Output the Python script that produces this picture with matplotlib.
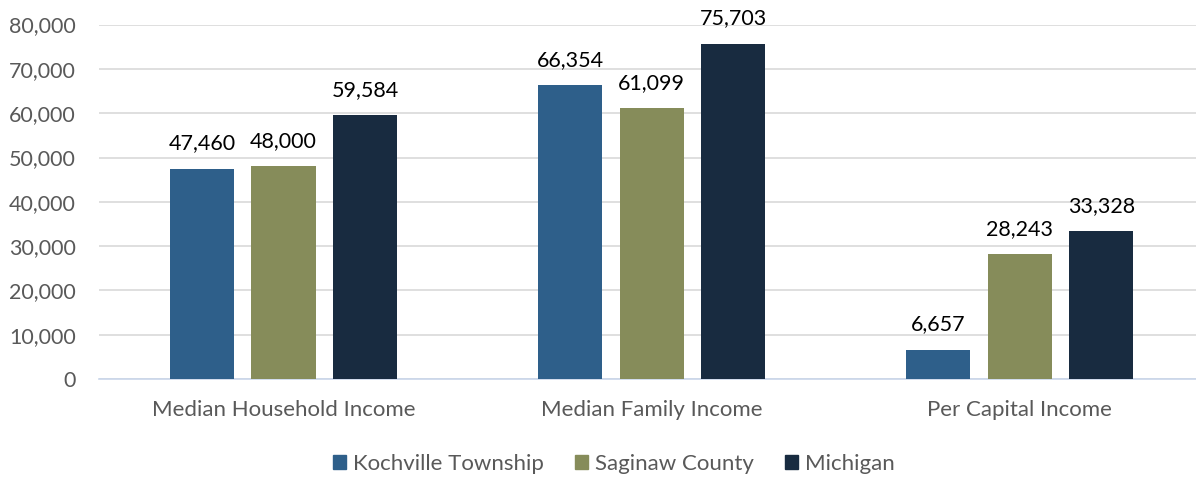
import numpy as np
import matplotlib
matplotlib.use("Agg")
from matplotlib import pyplot as plt
from matplotlib.patches import Patch
from matplotlib.ticker import FuncFormatter

plt.rcParams['font.family'] = ['Lato', 'DejaVu Sans']

categories = ['Median Household Income', 'Median Family Income', 'Per Capital Income']
series_names = ['Kochville Township', 'Saginaw County', 'Michigan']
kochville = [47460, 66354, 6657]
saginaw = [48000, 61099, 28243]
michigan = [59584, 75703, 33328]
colors = ['#2e5f8a', '#868c5a', '#182b40']

fig = plt.figure(figsize=(11.96, 4.78), dpi=100)
ax = fig.add_axes([99.4 / 1196, 0.207, 1104.6 / 1196, 0.7416])

x = np.arange(len(categories))
width = 0.174
step = 0.2215

for i, (vals, name, col) in enumerate(zip([kochville, saginaw, michigan], series_names, colors)):
    pos = x + (i - 1) * step
    bars = ax.bar(pos, vals, width, color=col, label=name, zorder=3)
    for b, v in zip(bars, vals):
        ax.annotate(f'{v:,}', (b.get_x() + b.get_width() / 2, v),
                    xytext=(0, 11), textcoords='offset points',
                    ha='center', va='bottom', fontsize=15.5, color='black')

ax.set_xlim(-0.5, 2.5)
ax.set_ylim(0, 80000)
ax.set_yticks(np.arange(0, 80001, 10000))
ax.yaxis.set_major_formatter(FuncFormatter(lambda v, p: f'{int(v):,}'))
ax.set_xticks(x)
ax.set_xticklabels(categories)

ax.grid(axis='y', color='#d9d9d9', linewidth=1.2, zorder=0)
for side in ['top', 'right', 'left']:
    ax.spines[side].set_visible(False)
ax.spines['bottom'].set_color('#c9d6ea')
ax.spines['bottom'].set_linewidth(1.2)
ax.tick_params(axis='both', length=0, colors='#595959')
ax.tick_params(axis='x', pad=15, labelsize=16)
ax.tick_params(axis='y', pad=17, labelsize=15.5)

handles = [Patch(color=c) for c in colors]
fig.legend(handles, series_names, loc='center', bbox_to_anchor=(0.513, 0.03),
           ncol=3, frameon=False, fontsize=16, labelcolor='#595959',
           handlelength=0.6, handleheight=0.6, handletextpad=0.3, columnspacing=1.4)

fig.savefig('out.png', dpi=100)
